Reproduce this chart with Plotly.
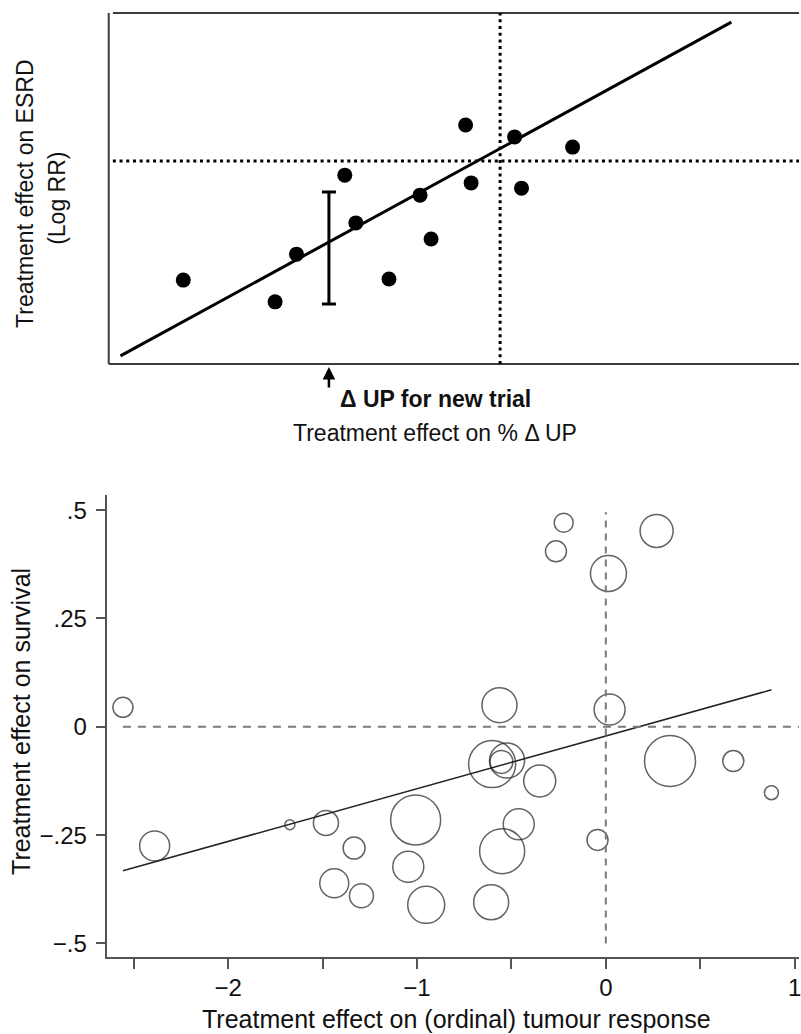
import plotly.graph_objects as go

# ---------------- Top panel (schematic, arbitrary units 0-100) ----------------
top_dup = [10.8, 24.1, 27.2, 34.2, 35.8, 40.6, 45.1, 46.7, 51.7, 52.5, 58.8, 59.8, 67.2]
top_logrr = [23.9, 17.7, 31.3, 53.8, 40.2, 24.2, 48.1, 35.6, 68.1, 51.6, 64.7, 50.1, 61.8]
top_fit_x = [1.7, 90.2]
top_fit_slope = 1.0746
top_fit_intercept = 0.47
top_null_x = 56.7
top_null_y = 57.8
new_trial_dup = 31.9
new_trial_pred_lo = 17.1
new_trial_pred_hi = 49.0

# ---------------- Bottom panel ----------------
resp_effect = [-2.557, -2.389, -1.673, -1.482, -1.333, -1.438, -1.294, -0.563, -0.602, -0.523,
               -0.553, -0.350, -1.007, -1.046, -0.951, -0.461, -0.549, -0.607, 0.020, 0.340,
               0.675, 0.877, -0.044, -0.223, -0.264, 0.014, 0.269]
surv_effect = [0.045, -0.275, -0.226, -0.222, -0.280, -0.361, -0.390, 0.050, -0.086, -0.078,
               -0.081, -0.125, -0.215, -0.323, -0.411, -0.225, -0.287, -0.405, 0.040, -0.079,
               -0.079, -0.152, -0.261, 0.471, 0.405, 0.354, 0.452]
trial_weight = [400, 900, 100, 625, 484, 841, 576, 1225, 2209, 1225,
                529, 1024, 2500, 961, 1369, 961, 2025, 1225, 961, 2601,
                441, 196, 441, 361, 441, 1296, 1089]
fit_slope = 0.1216
fit_intercept = -0.0213
x_tickvals = [-2.5, -2, -1.5, -1, -0.5, 0, 0.5, 1]
x_ticktext = ["", "\u22122", "", "\u22121", "", "0", "", "1"]
y_tickvals = [0.5, 0.25, 0, -0.25, -0.5]
y_ticktext = [".5", ".25", "0", "\u2212.25", "\u2212.5"]

W, H = 801, 1034
FONT = "Liberation Sans, Arial, Helvetica, sans-serif"

def px_y(p):
    return 1 - p / H

fig = go.Figure()

# ---- top panel traces ----
fx = top_fit_x
fy = [top_fit_intercept + top_fit_slope * v for v in fx]
fig.add_trace(go.Scatter(x=fx, y=fy, mode="lines", line=dict(color="black", width=3),
                         xaxis="x", yaxis="y", hoverinfo="skip"))
fig.add_trace(go.Scatter(x=top_dup, y=top_logrr, mode="markers",
                         marker=dict(color="black", size=15, line=dict(width=0)),
                         xaxis="x", yaxis="y"))
mid = (new_trial_pred_lo + new_trial_pred_hi) / 2
half = (new_trial_pred_hi - new_trial_pred_lo) / 2
fig.add_trace(go.Scatter(x=[new_trial_dup], y=[mid], mode="markers",
                         marker=dict(size=1, color="rgba(0,0,0,0)"),
                         error_y=dict(type="data", array=[half], visible=True,
                                      color="black", thickness=3, width=7),
                         xaxis="x", yaxis="y", hoverinfo="skip"))

# ---- bottom panel traces ----
bx = [min(resp_effect), max(resp_effect)]
by = [fit_intercept + fit_slope * v for v in bx]
fig.add_trace(go.Scatter(x=bx, y=by, mode="lines", line=dict(color="#222", width=1.5),
                         xaxis="x2", yaxis="y2", hoverinfo="skip"))
fig.add_trace(go.Scatter(x=resp_effect, y=surv_effect, mode="markers",
                         marker=dict(size=trial_weight, sizemode="area", sizeref=2,
                                     color="rgba(0,0,0,0)",
                                     line=dict(color="#222", width=1.5)),
                         xaxis="x2", yaxis="y2"))

shapes = []
# top frame
frame_col = "#3c3c3c"
shapes.append(dict(type="line", xref="x domain", yref="y domain", x0=0, x1=0, y0=0, y1=1,
                   line=dict(color=frame_col, width=2)))
shapes.append(dict(type="line", xref="x domain", yref="y domain", x0=0.006, x1=1, y0=1, y1=1,
                   line=dict(color=frame_col, width=2)))
shapes.append(dict(type="line", xref="x domain", yref="y domain", x0=0, x1=1, y0=0, y1=0,
                   line=dict(color=frame_col, width=2)))
# top dotted reference lines
shapes.append(dict(type="line", xref="x", yref="y domain", x0=top_null_x, x1=top_null_x, y0=0, y1=1,
                   line=dict(color="black", width=3, dash="3px,3.7px")))
shapes.append(dict(type="line", xref="x domain", yref="y", x0=0.006, x1=1, y0=top_null_y, y1=top_null_y,
                   line=dict(color="black", width=3, dash="3px,3.7px")))
# bottom dashed reference lines
shapes.append(dict(type="line", xref="x2", yref="y2", x0=min(resp_effect), x1=1.03, y0=0, y1=0,
                   line=dict(color="#7a7a7a", width=2, dash="8px,7px")))
shapes.append(dict(type="line", xref="x2", yref="y2", x0=0, x1=0, y0=-0.5, y1=0.495,
                   line=dict(color="#7a7a7a", width=2, dash="7px,6px")))

annotations = [
    dict(text="Treatment effect on ESRD", xref="paper", yref="paper", x=25 / W, y=px_y(194),
         textangle=-90, showarrow=False, xanchor="center", yanchor="middle",
         font=dict(family=FONT, size=23, color="#111")),
    dict(text="(Log RR)", xref="paper", yref="paper", x=57 / W, y=px_y(198),
         textangle=-90, showarrow=False, xanchor="center", yanchor="middle",
         font=dict(family=FONT, size=23, color="#111")),
    dict(text="", xref="x", yref="paper", x=new_trial_dup, y=px_y(367), ax=0, ay=22,
         showarrow=True, arrowhead=2, arrowsize=1, arrowwidth=2.5, arrowcolor="black"),
    dict(text="<b>\u0394 UP for new trial</b>", xref="paper", yref="paper", x=339 / W, y=px_y(399),
         showarrow=False, xanchor="left", yanchor="middle",
         font=dict(family=FONT, size=23, color="#111")),
    dict(text="Treatment effect on % \u0394 UP", xref="paper", yref="paper", x=436 / W, y=px_y(433),
         showarrow=False, xanchor="center", yanchor="middle",
         font=dict(family=FONT, size=23, color="#111")),
    dict(text="Treatment effect on survival", xref="paper", yref="paper", x=21 / W, y=px_y(721),
         textangle=-90, showarrow=False, xanchor="center", yanchor="middle",
         font=dict(family=FONT, size=25, color="#111")),
    dict(text="Treatment effect on (ordinal) tumour response", xref="paper", yref="paper",
         x=458 / W, y=px_y(1019), showarrow=False, xanchor="center", yanchor="middle",
         font=dict(family=FONT, size=25, color="#111")),
]

axcol = "#555"
fig.update_layout(
    width=W, height=H, margin=dict(l=0, r=0, t=0, b=0),
    paper_bgcolor="white", plot_bgcolor="white", showlegend=False,
    xaxis=dict(domain=[109 / W, 1.0], range=[0, 100], showgrid=False, zeroline=False,
               showticklabels=False, ticks="", showline=False, anchor="y"),
    yaxis=dict(domain=[px_y(364), px_y(13)], range=[0, 100], showgrid=False, zeroline=False,
               showticklabels=False, ticks="", showline=False, anchor="x"),
    xaxis2=dict(domain=[107.7 / W, 1.0], range=[-2.639, 1.023], showgrid=False, zeroline=False,
                tickvals=x_tickvals, ticktext=x_ticktext, ticks="outside", ticklen=10,
                tickwidth=1.5, tickcolor=axcol, showline=True, linecolor=axcol, linewidth=1.5,
                tickfont=dict(family=FONT, size=24, color="#111"), ticklabeloverflow="allow",
                ticklabelstandoff=-2, anchor="y2"),
    yaxis2=dict(domain=[px_y(957.3), px_y(495)], range=[-0.532, 0.535], showgrid=False,
                zeroline=False, tickvals=y_tickvals, ticktext=y_ticktext, ticks="outside",
                ticklen=10, tickwidth=1.5, tickcolor=axcol, showline=True, linecolor=axcol,
                linewidth=1.5, tickfont=dict(family=FONT, size=24, color="#111"),
                ticklabelstandoff=4, anchor="x2"),
    shapes=shapes, annotations=annotations,
)

fig.write_html("out.html", config={"displayModeBar": False},
               post_script="document.body.style.margin='0';document.body.style.overflow='hidden';")
